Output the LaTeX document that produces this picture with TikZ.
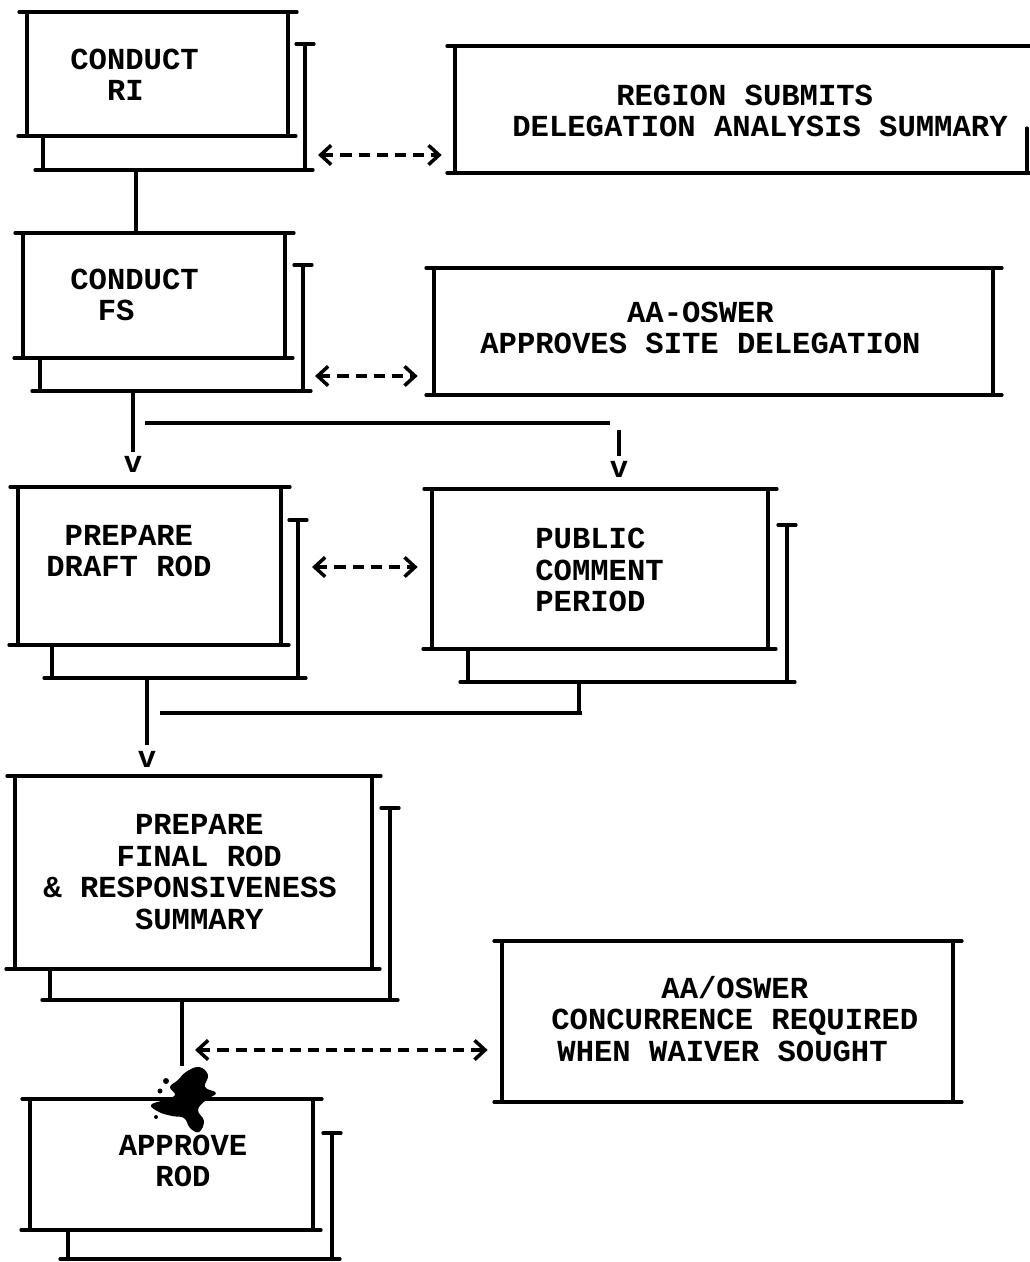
\documentclass[tikz,border=0pt]{standalone}
\usepackage{fontspec}
\newfontfamily\tw{Liberation Mono}
\usetikzlibrary{arrows.meta,fit}

\tikzset{
  ln/.style={line width=1.9pt, line cap=round},
  cn/.style={line width=1.9pt},
  txt/.style={font=\tw\bfseries\fontsize{17.4}{17.9}\selectfont, inner sep=0pt, align=left, anchor=west},
  vtip/.style={font=\tw\bfseries\fontsize{17.4}{17.9}\selectfont, inner sep=0pt},
  dasharrow/.style={line width=2.3pt, dash pattern=on 6.3pt off 4pt,
    {Straight Barb[length=6pt,width=11pt,line width=2pt]}-{Straight Barb[length=6pt,width=11pt,line width=2pt]}},
  area/.style={inner sep=0pt, draw=none}
}

% name, L, T, R, B, shadowX, shadowTop, shadowBottom, tickX
\newcommand\flowbox[9]{%
  \node[area, fit={(#2,#3) (#4,#5)}] (#1) {};
  \draw[ln] (#2-8,#3) -- (#4+9,#3);
  \draw[ln] (#2,#3) -- (#2,#5);
  \draw[ln] (#4,#3) -- (#4,#5);
  \draw[ln] (#2-9,#5) -- (#4+8,#5);
  \draw[ln] (#6-9,#7) -- (#6+9,#7);
  \draw[ln] (#6,#7) -- (#6,#8);
  \draw[ln] (#9-8,#8) -- (#6+8,#8);
  \draw[ln] (#9,#5) -- (#9,#8);
}
% name, L, T, R, B
\newcommand\plainbox[5]{%
  \node[area, fit={(#2,#3) (#4,#5)}] (#1) {};
  \draw[ln] (#2-8,#3) -- (#4+9,#3);
  \draw[ln] (#2,#3) -- (#2,#5);
  \draw[ln] (#4,#3) -- (#4,#5);
  \draw[ln] (#2-8,#5) -- (#4+9,#5);
}

\begin{document}
\begin{tikzpicture}[x=0.02cm, y=-0.02cm]
\useasboundingbox (0,0) rectangle (1030,1262);

% ---------- boxes ----------
\flowbox{ri}{27}{12}{288}{136}{305}{44}{170}{43}
\node[txt] (riT) at (70,75) {CONDUCT\\\hspace*{1.2em}RI};

\flowbox{fs}{23}{233}{285}{358}{303}{265}{391}{40}
\node[txt] (fsT) at (70,295) {CONDUCT\\\hspace*{0.9em}FS};

\flowbox{dr}{18}{487}{281}{645}{298}{520}{678}{52}
\node[txt] (drT) at (46,551) {\hspace*{0.6em}PREPARE\\DRAFT ROD};

\flowbox{pc}{432}{489}{768}{649}{787}{525}{682}{468}
\node[txt] (pcT) at (535,570) {PUBLIC\\COMMENT\\PERIOD};

\flowbox{fr}{15}{776}{372}{969}{390}{808}{1000}{50}
\node[txt] (frT) at (43,872) {\hspace*{3em}PREPARE\\\hspace*{2.4em}FINAL ROD\\\&~RESPONSIVENESS\\\hspace*{3em}SUMMARY};

\flowbox{ap}{30}{1099}{313}{1230}{332}{1133}{1259}{68}
\node[txt, align=center, anchor=center] (apT) at (183,1161) {APPROVE\\ROD};

% right-hand boxes
\node[area, fit={(455,46) (1027,173)}] (rg) {};
\draw[ln] (447,46) -- (1030,46);
\draw[ln] (455,46) -- (455,173);
\draw[ln] (447,173) -- (1030,173);
\draw[ln] (1027,128) -- (1027,173);
\node[txt] (rgT) at (512,111) {\hspace*{3.4em}REGION SUBMITS\\DELEGATION ANALYSIS SUMMARY};

\plainbox{aa}{434}{268}{993}{395}
\node[txt] (aaT) at (480,328) {\hspace*{4.8em}AA-OSWER\\APPROVES SITE DELEGATION};

\plainbox{wv}{502}{941}{953}{1102}
\node[txt] (wvT) at (551,1019) {\hspace*{3.6em}AA/OSWER\\CONCURRENCE REQUIRED\\\hspace*{0.2em}WHEN WAIVER SOUGHT};

% ---------- ink blot ----------
\fill plot[smooth cycle, tension=0.7] coordinates {(186,1072) (199,1067) (208,1075) (205,1087) (216,1093) (206,1100) (198,1110) (204,1121) (199,1132) (190,1128) (184,1118) (172,1116) (159,1112) (151,1105) (164,1100) (175,1095) (170,1087) (178,1080)};
\fill (166,1081) circle (3);
\fill (160,1091) circle (2.5);
\fill (156,1117) circle (2);

% ---------- connectors ----------
\coordinate (c1) at (136,170);
\coordinate (c2) at (136,233);
\draw[cn] (c1) -- (c2);

\coordinate (c3) at (133,391);
\node[vtip] (v1) at (133,464) {v};
\draw[cn] (c3) -- (133,452);

\coordinate (b1) at (145,423);
\coordinate (b2) at (610,423);
\draw[cn] (b1) -- (b2);
\node[vtip] (v2) at (619,469) {v};
\coordinate (b3) at (619,430);
\draw[cn] (b3) -- (619,456);

\coordinate (c4) at (147,678);
\node[vtip] (v3) at (147,759) {v};
\draw[cn] (c4) -- (147,745);

\coordinate (m1) at (579,682);
\coordinate (m2) at (579,713);
\coordinate (m3) at (160,713);
\draw[cn] (m1) -- (m2);
\draw[cn] (m3) -- (582,713);

\coordinate (c5) at (182,1000);
\coordinate (c6) at (182,1066);
\draw[cn] (c5) -- (c6);

% ---------- dashed double arrows ----------
\coordinate (a1) at (318,155);
\draw[dasharrow, shorten >=0.26cm] (a1) -- (rg.west |- a1);
\coordinate (a2) at (315,376);
\draw[dasharrow, shorten >=0.32cm] (a2) -- (aa.west |- a2);
\coordinate (a3) at (312,567);
\draw[dasharrow, shorten >=0.28cm] (a3) -- (pc.west |- a3);
\coordinate (a4) at (195,1050);
\draw[dasharrow, shorten >=0.28cm] (a4) -- (wv.west |- a4);
\end{tikzpicture}
\end{document}
